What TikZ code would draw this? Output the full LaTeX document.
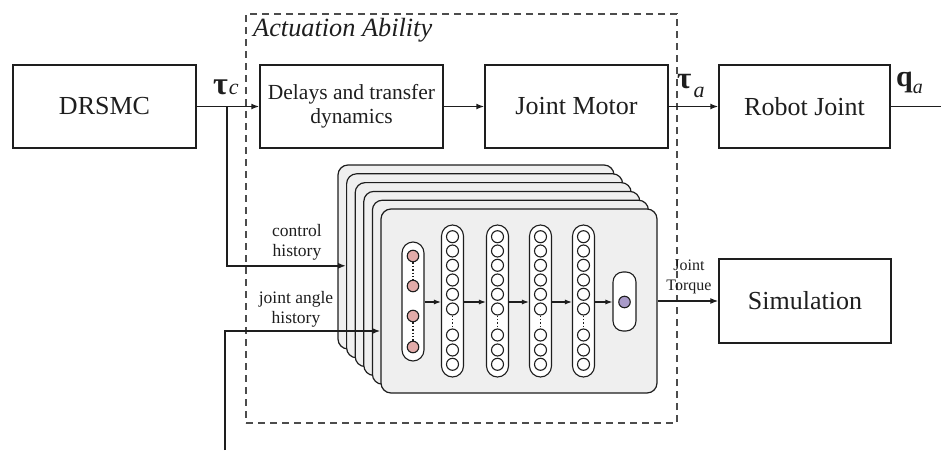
\documentclass[tikz,border=0pt]{standalone}
\usepackage{fontspec}
\setmainfont{Liberation Serif}
\usetikzlibrary{arrows.meta}
\definecolor{ink}{HTML}{1E1E1E}
\definecolor{cardfill}{HTML}{EFEFEF}
\definecolor{inred}{HTML}{E2ABA9}
\definecolor{outpurple}{HTML}{A99BC9}
\begin{document}
\begin{tikzpicture}[x=1pt,y=-1pt,
  box/.style={draw=ink, line width=1.5pt, minimum height=83pt, inner sep=0pt, align=center, text=ink, font=\fontsize{26}{30}\selectfont},
  flow/.style={draw=ink, line width=1.5pt, -{Latex[length=8pt,width=6pt]}},
  plain/.style={draw=ink, line width=1.5pt},
  card/.style={draw=ink, line width=1.2pt, fill=cardfill, rounded corners=10pt, minimum width=276pt, minimum height=184pt, inner sep=0pt},
  pill/.style={draw=ink, line width=1.1pt, fill=white, rounded corners=10pt, minimum width=22pt, inner sep=0pt},
  neuron/.style={circle, draw=ink, line width=1.1pt, fill=white, minimum size=12pt, inner sep=0pt},
  nnflow/.style={draw=ink, line width=1.1pt, -{Latex[length=7pt,width=5pt]}},
  dots/.style={draw=ink, line width=1.4pt, dotted},
  small/.style={text=ink, align=center, font=\fontsize{17.5}{20}\selectfont, inner sep=0pt}
]
\useasboundingbox (0,0) rectangle (941,450);

% dashed actuation region
\node[draw=black!70, line width=1.3pt, dash pattern=on 7pt off 5pt, minimum width=431pt, minimum height=409pt, inner sep=0pt] (act) at (461.5,218.5) {};
\node[anchor=base west, text=ink, font=\fontsize{26.3}{28}\selectfont\itshape, inner sep=0pt] (actlbl) at (253,36) {Actuation Ability};

% main blocks
\node[box, minimum width=183pt] (drsmc) at (104.5,106.5) {DRSMC};
\node[box, minimum width=183pt, font=\fontsize{21.5}{24}\selectfont] (delay) at (351.5,106.5) {Delays and transfer\\dynamics};
\node[box, minimum width=183pt] (motor) at (576.5,106.5) {Joint Motor};
\node[box, minimum width=171pt] (robot) at (804.5,106.5) {Robot Joint};
\node[box, minimum width=172pt, minimum height=84pt] (sim) at (805,301) {Simulation};

% signal labels
\node[anchor=base west, inner sep=0pt, text=ink] (tauc) at (213,94) {{\fontsize{32}{32}\selectfont\bfseries τ}\kern1pt{\fontsize{22}{22}\selectfont\itshape c}};
\node[anchor=base west, inner sep=0pt, text=ink] (taua) at (677,88) {{\fontsize{31}{31}\selectfont\bfseries τ}\kern2pt\raisebox{-9pt}{\fontsize{22}{22}\selectfont\itshape a}};
\node[anchor=base west, inner sep=0pt, text=ink] (qa) at (896,86) {{\fontsize{30}{30}\selectfont\bfseries q}\raisebox{-7pt}{\fontsize{20}{20}\selectfont\itshape a}};

% stacked network cards
\foreach \i in {0,...,5} {
  \node[card] (card\i) at ({476+8.6*\i},{257+8.8*\i}) {};
}

% input layer
\node[pill, minimum height=119pt, rounded corners=11pt] (inL) at (413,301.5) {};
\foreach \j/\yy in {1/256,2/286,3/316,4/347} {
  \node[neuron, fill=inred, minimum size=11.5pt] (in\j) at (413,\yy) {};
}
\draw[dots] (in1) -- (in2);
\draw[dots] (in3) -- (in4);

% hidden layers
\foreach \k/\xx in {1/452.5,2/497.5,3/540.5,4/583.5} {
  \node[pill, minimum height=152pt, rounded corners=11pt] (hL\k) at (\xx,301) {};
  \foreach \j/\yy in {1/236.7,2/251,3/265.3,4/280,5/294.3,6/309,7/335,8/350,9/364.3} {
    \node[neuron] (h\k-\j) at (\xx,\yy) {};
  }
  \draw[dots] (h\k-6) -- (h\k-7);
}

% output layer
\node[pill, minimum width=23pt, minimum height=59pt] (outL) at (624.5,301.5) {};
\node[neuron, fill=outpurple, minimum size=11.5pt] (outN) at (624.5,302) {};

% arrows inside network
\draw[nnflow] (inL.east |- 0,302) -- (hL1.west |- 0,302);
\draw[nnflow] (hL1.east |- 0,302) -- (hL2.west |- 0,302);
\draw[nnflow] (hL2.east |- 0,302) -- (hL3.west |- 0,302);
\draw[nnflow] (hL3.east |- 0,302) -- (hL4.west |- 0,302);
\draw[nnflow] (hL4.east |- 0,302) -- (outL.west |- 0,302);

% main signal path
\draw[flow] (drsmc) -- (delay);
\draw[flow] (delay) -- (motor);
\draw[flow] (motor) -- (robot);
\coordinate (qout) at (941,106.5);
\draw[plain] (robot) -- (qout);

% branches into network
\coordinate (br) at (227,106.5);
\draw[flow] (br) |- (card1.west);
\coordinate (jain) at (225,450);
\draw[flow] (jain) |- ([yshift=-30pt]card5.west);

\node[small] (ctrl) at (297,242) {control\\history};
\node[small] (jang) at (296,309) {joint angle\\history};

% output to simulation
\draw[flow, line width=1.2pt] (card5.east |- sim.west) -- (sim.west);
\node[small, font=\fontsize{16}{20}\selectfont] (jt) at (689,277) {Joint\\Torque};
\end{tikzpicture}
\end{document}
